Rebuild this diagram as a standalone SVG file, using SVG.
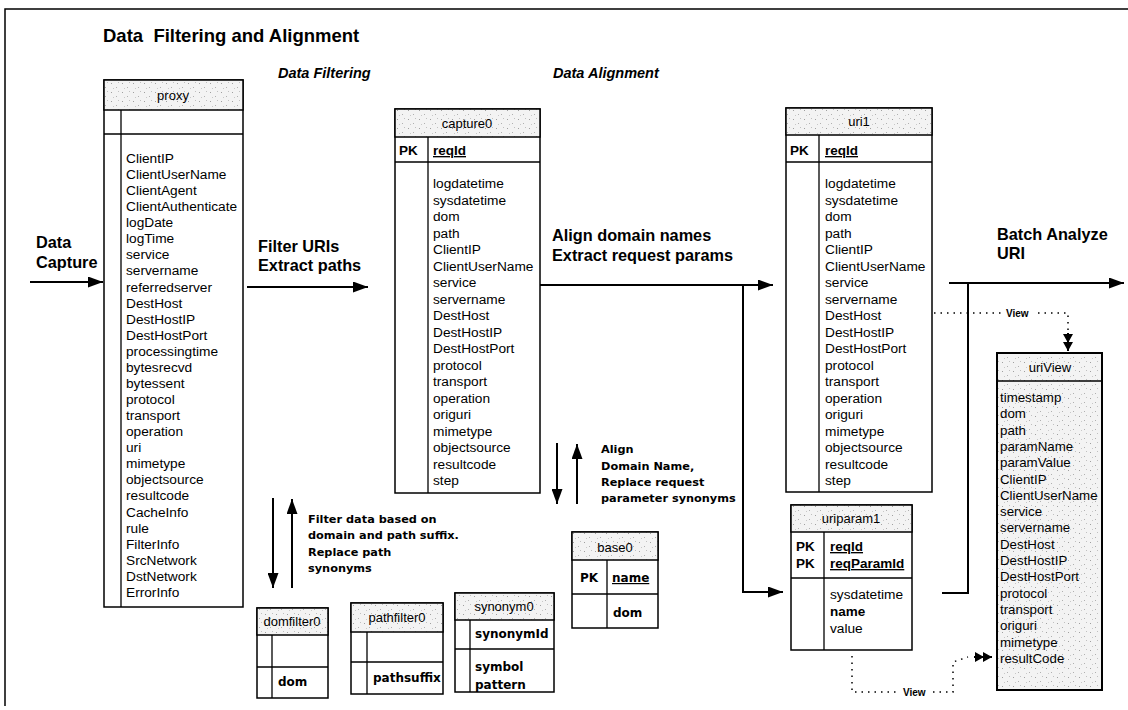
<svg xmlns="http://www.w3.org/2000/svg" width="1128" height="710" viewBox="0 0 1128 710">
  <defs>
    <pattern id="stip" width="11" height="9" patternUnits="userSpaceOnUse">
      <rect width="11" height="9" fill="#f3f3f3"/>
      <rect x="1" y="2" width="1" height="1" fill="#a0a0a0"/>
      <rect x="6" y="6" width="1" height="1" fill="#b0b0b0"/>
      <rect x="8" y="1" width="1" height="1" fill="#c0c0c0"/>
      <rect x="3" y="7" width="1" height="1" fill="#c8c8c8"/>
    </pattern>
    <marker id="arrow" markerUnits="userSpaceOnUse" markerWidth="15" markerHeight="11" refX="15" refY="5.5" orient="auto">
      <path d="M0,0 L15,5.5 L0,11 Z" fill="#000"/>
    </marker>
    <marker id="dbl" markerUnits="userSpaceOnUse" markerWidth="17" markerHeight="10" refX="17" refY="5" orient="auto">
      <path d="M0,0 L9,5 L0,10 Z M8,0 L17,5 L8,10 Z" fill="#000"/>
    </marker>
    <style>
      .frame { fill: none; stroke: #000; stroke-width: 1.5; }
      .box { fill: #fff; stroke: #000; stroke-width: 1.5; }
      .hdr { fill: url(#stip); stroke: #000; stroke-width: 1.5; }
      .rule { stroke: #000; stroke-width: 1.3; fill: none; }
      .flow { stroke: #000; stroke-width: 2; fill: none; }
      .dot { stroke: #000; stroke-width: 1.5; fill: none; stroke-dasharray: 1.5 5; }
      .title { font-family: "Liberation Sans", Arial, sans-serif; font-weight: bold; font-size: 18.5px; }
      .phase { font-family: "Liberation Sans", Arial, sans-serif; font-weight: bold; font-style: italic; font-size: 14.5px; }
      .step { font-family: "Liberation Sans", Arial, sans-serif; font-weight: bold; font-size: 16.3px; }
      .note { font-family: "DejaVu Sans", Verdana, sans-serif; font-weight: bold; font-size: 11.3px; }
      .fld { font-family: "Liberation Sans", Arial, sans-serif; font-size: 13.7px; }
      .vfld { font-family: "Liberation Sans", Arial, sans-serif; font-size: 13.3px; }
      .key { font-family: "Liberation Sans", Arial, sans-serif; font-size: 13.5px; font-weight: bold; }
      .bfld { font-family: "DejaVu Sans", Verdana, sans-serif; font-weight: bold; font-size: 12px; }
      .cap { font-family: "Liberation Sans", Arial, sans-serif; font-size: 13px; text-anchor: middle; }
      .view { font-family: "Liberation Sans", Arial, sans-serif; font-size: 10px; font-weight: bold; }
      .ul { text-decoration: underline; }
    </style>
  </defs>

  <rect width="1128" height="710" fill="#fff"/>
  <path class="frame" d="M5,706 L5,9 L1128,9"/>

  <!-- headings -->
  <text class="title" x="103" y="42" xml:space="preserve">Data  Filtering and Alignment</text>
  <text class="phase" x="278" y="78">Data Filtering</text>
  <text class="phase" x="553" y="78">Data Alignment</text>

  <!-- connectors -->
  <g id="connectors">
    <path class="flow" d="M30,282 L103,282" marker-end="url(#arrow)"/>
    <path class="flow" d="M247,287 L368,287" marker-end="url(#arrow)"/>
    <path class="flow" d="M537,285 L773,285" marker-end="url(#arrow)"/>
    <path class="flow" d="M743,285 L743,592 L783,592" marker-end="url(#arrow)"/>
    <path class="flow" d="M949,283 L1124,283" marker-end="url(#arrow)"/>
    <path class="flow" d="M942,593 L968,593 L968,283"/>
    <path class="flow" d="M273,498 L273,588" marker-end="url(#arrow)"/>
    <path class="flow" d="M292,588 L292,499" marker-end="url(#arrow)"/>
    <path class="flow" d="M557,443 L557,504" marker-end="url(#arrow)"/>
    <path class="flow" d="M577,504 L577,444" marker-end="url(#arrow)"/>
    <path class="dot" d="M934,313 L1068,313 L1068,334"/>
    <path class="flow" d="M1068,333 L1068,351" marker-end="url(#dbl)"/>
    <rect x="1004" y="305" width="30" height="14" fill="#fff"/>
    <text class="view" x="1006" y="317">View</text>
    <path class="dot" d="M852,656 L852,692 L953,692 L953,662 L968,657"/>
    <path class="flow" d="M974,657 L992,657" marker-end="url(#dbl)"/>
    <rect x="900" y="684" width="30" height="14" fill="#fff"/>
    <text class="view" x="903" y="696">View</text>
  </g>

  <!-- arrow labels -->
  <text class="step" x="36" y="248">Data</text>
  <text class="step" x="36" y="268">Capture</text>
  <text class="step" x="258" y="252">Filter URIs</text>
  <text class="step" x="258" y="271">Extract paths</text>
  <text class="step" x="552" y="241">Align domain names</text>
  <text class="step" x="552" y="261">Extract request params</text>
  <text class="step" x="997" y="240">Batch Analyze</text>
  <text class="step" x="997" y="259">URI</text>
  <text class="note" x="308" y="523">Filter data based on</text>
  <text class="note" x="308" y="539">domain and path suffix.</text>
  <text class="note" x="308" y="556">Replace path</text>
  <text class="note" x="308" y="572">synonyms</text>
  <text class="note" x="601" y="453">Align</text>
  <text class="note" x="601" y="470">Domain Name,</text>
  <text class="note" x="601" y="486">Replace request</text>
  <text class="note" x="601" y="502">parameter synonyms</text>

  <!-- proxy -->
  <g id="proxy">
    <rect class="box" x="104" y="80" width="139" height="527"/>
    <rect class="hdr" x="104" y="80" width="139" height="30"/>
    <text class="cap" x="173" y="100">proxy</text>
    <line class="rule" x1="104" y1="134" x2="243" y2="134" stroke-width="2"/>
    <line class="rule" x1="121" y1="110" x2="121" y2="607"/>
    <text class="fld" x="126" y="163">
      <tspan x="126">ClientIP</tspan><tspan x="126" dy="16.07">ClientUserName</tspan><tspan x="126" dy="16.07">ClientAgent</tspan><tspan x="126" dy="16.07">ClientAuthenticate</tspan><tspan x="126" dy="16.07">logDate</tspan><tspan x="126" dy="16.07">logTime</tspan><tspan x="126" dy="16.07">service</tspan><tspan x="126" dy="16.07">servername</tspan><tspan x="126" dy="16.07">referredserver</tspan><tspan x="126" dy="16.07">DestHost</tspan><tspan x="126" dy="16.07">DestHostIP</tspan><tspan x="126" dy="16.07">DestHostPort</tspan><tspan x="126" dy="16.07">processingtime</tspan><tspan x="126" dy="16.07">bytesrecvd</tspan><tspan x="126" dy="16.07">bytessent</tspan><tspan x="126" dy="16.07">protocol</tspan><tspan x="126" dy="16.07">transport</tspan><tspan x="126" dy="16.07">operation</tspan><tspan x="126" dy="16.07">uri</tspan><tspan x="126" dy="16.07">mimetype</tspan><tspan x="126" dy="16.07">objectsource</tspan><tspan x="126" dy="16.07">resultcode</tspan><tspan x="126" dy="16.07">CacheInfo</tspan><tspan x="126" dy="16.07">rule</tspan><tspan x="126" dy="16.07">FilterInfo</tspan><tspan x="126" dy="16.07">SrcNetwork</tspan><tspan x="126" dy="16.07">DstNetwork</tspan><tspan x="126" dy="16.07">ErrorInfo</tspan>
    </text>
  </g>

  <!-- capture0 -->
  <g id="capture0">
    <rect class="box" x="395" y="109" width="145" height="384"/>
    <rect class="hdr" x="395" y="109" width="145" height="28"/>
    <text class="cap" x="467" y="128">capture0</text>
    <line class="rule" x1="395" y1="162" x2="540" y2="162"/>
    <line class="rule" x1="428" y1="137" x2="428" y2="493"/>
    <text class="key" x="399" y="155">PK</text>
    <text class="key ul" x="433" y="155">reqId</text>
    <text class="fld" x="433" y="188">
      <tspan x="433">logdatetime</tspan><tspan x="433" dy="16.5">sysdatetime</tspan><tspan x="433" dy="16.5">dom</tspan><tspan x="433" dy="16.5">path</tspan><tspan x="433" dy="16.5">ClientIP</tspan><tspan x="433" dy="16.5">ClientUserName</tspan><tspan x="433" dy="16.5">service</tspan><tspan x="433" dy="16.5">servername</tspan><tspan x="433" dy="16.5">DestHost</tspan><tspan x="433" dy="16.5">DestHostIP</tspan><tspan x="433" dy="16.5">DestHostPort</tspan><tspan x="433" dy="16.5">protocol</tspan><tspan x="433" dy="16.5">transport</tspan><tspan x="433" dy="16.5">operation</tspan><tspan x="433" dy="16.5">origuri</tspan><tspan x="433" dy="16.5">mimetype</tspan><tspan x="433" dy="16.5">objectsource</tspan><tspan x="433" dy="16.5">resultcode</tspan><tspan x="433" dy="16.5">step</tspan>
    </text>
  </g>

  <!-- uri1 -->
  <g id="uri1">
    <rect class="box" x="786" y="108" width="146" height="384"/>
    <rect class="hdr" x="786" y="108" width="146" height="27"/>
    <text class="cap" x="859" y="126">uri1</text>
    <line class="rule" x1="786" y1="162" x2="932" y2="162"/>
    <line class="rule" x1="819" y1="135" x2="819" y2="492"/>
    <text class="key" x="790" y="155">PK</text>
    <text class="key ul" x="825" y="155">reqId</text>
    <text class="fld" x="825" y="188">
      <tspan x="825">logdatetime</tspan><tspan x="825" dy="16.5">sysdatetime</tspan><tspan x="825" dy="16.5">dom</tspan><tspan x="825" dy="16.5">path</tspan><tspan x="825" dy="16.5">ClientIP</tspan><tspan x="825" dy="16.5">ClientUserName</tspan><tspan x="825" dy="16.5">service</tspan><tspan x="825" dy="16.5">servername</tspan><tspan x="825" dy="16.5">DestHost</tspan><tspan x="825" dy="16.5">DestHostIP</tspan><tspan x="825" dy="16.5">DestHostPort</tspan><tspan x="825" dy="16.5">protocol</tspan><tspan x="825" dy="16.5">transport</tspan><tspan x="825" dy="16.5">operation</tspan><tspan x="825" dy="16.5">origuri</tspan><tspan x="825" dy="16.5">mimetype</tspan><tspan x="825" dy="16.5">objectsource</tspan><tspan x="825" dy="16.5">resultcode</tspan><tspan x="825" dy="16.5">step</tspan>
    </text>
  </g>

  <!-- uriparam1 -->
  <g id="uriparam1">
    <rect class="box" x="791" y="505" width="121" height="145"/>
    <rect class="hdr" x="791" y="505" width="121" height="27"/>
    <text class="cap" x="851" y="523">uriparam1</text>
    <line class="rule" x1="791" y1="578" x2="912" y2="578"/>
    <line class="rule" x1="824" y1="532" x2="824" y2="650"/>
    <text class="key" x="796" y="551">PK</text>
    <text class="key" x="796" y="568">PK</text>
    <text class="key ul" x="830" y="551">reqId</text>
    <text class="key ul" x="830" y="568">reqParamId</text>
    <text class="fld" x="830" y="599">sysdatetime</text>
    <text class="key" x="830" y="616">name</text>
    <text class="fld" x="830" y="633">value</text>
  </g>

  <!-- uriView -->
  <g id="uriView">
    <rect x="997" y="353" width="105" height="337" fill="url(#stip)" stroke="#000" stroke-width="2"/>
    <line class="rule" x1="997" y1="381" x2="1102" y2="381"/>
    <text class="cap" x="1050" y="372">uriView</text>
    <text class="vfld" x="1000" y="402">
      <tspan x="1000">timestamp</tspan><tspan x="1000" dy="16.3">dom</tspan><tspan x="1000" dy="16.3">path</tspan><tspan x="1000" dy="16.3">paramName</tspan><tspan x="1000" dy="16.3">paramValue</tspan><tspan x="1000" dy="16.3">ClientIP</tspan><tspan x="1000" dy="16.3">ClientUserName</tspan><tspan x="1000" dy="16.3">service</tspan><tspan x="1000" dy="16.3">servername</tspan><tspan x="1000" dy="16.3">DestHost</tspan><tspan x="1000" dy="16.3">DestHostIP</tspan><tspan x="1000" dy="16.3">DestHostPort</tspan><tspan x="1000" dy="16.3">protocol</tspan><tspan x="1000" dy="16.3">transport</tspan><tspan x="1000" dy="16.3">origuri</tspan><tspan x="1000" dy="16.3">mimetype</tspan><tspan x="1000" dy="16.3">resultCode</tspan>
    </text>
  </g>

  <!-- base0 -->
  <g id="base0">
    <rect class="box" x="572" y="532" width="86" height="96"/>
    <rect class="hdr" x="572" y="532" width="86" height="28"/>
    <text class="cap" x="615" y="552">base0</text>
    <line class="rule" x1="572" y1="594" x2="658" y2="594"/>
    <line class="rule" x1="607" y1="560" x2="607" y2="628"/>
    <text class="bfld" x="589" y="582" text-anchor="middle">PK</text>
    <text class="bfld ul" x="612" y="582">name</text>
    <text class="bfld" x="613" y="617">dom</text>
  </g>

  <!-- domfilter0 -->
  <g id="domfilter0">
    <rect class="box" x="257" y="608" width="71" height="90"/>
    <rect class="hdr" x="257" y="608" width="71" height="27"/>
    <text class="cap" x="292" y="626" font-size="12">domfilter0</text>
    <line class="rule" x1="257" y1="667" x2="328" y2="667"/>
    <line class="rule" x1="272" y1="635" x2="272" y2="698"/>
    <text class="bfld" x="278" y="686">dom</text>
  </g>

  <!-- pathfilter0 -->
  <g id="pathfilter0">
    <rect class="box" x="351" y="603" width="92" height="91"/>
    <rect class="hdr" x="351" y="603" width="92" height="29"/>
    <text class="cap" x="397" y="622" font-size="12">pathfilter0</text>
    <line class="rule" x1="351" y1="662" x2="443" y2="662"/>
    <line class="rule" x1="367" y1="632" x2="367" y2="694"/>
    <text class="bfld" x="373" y="682">pathsuffix</text>
  </g>

  <!-- synonym0 -->
  <g id="synonym0">
    <rect class="box" x="455" y="593" width="99" height="99"/>
    <rect class="hdr" x="455" y="593" width="99" height="27"/>
    <text class="cap" x="504" y="611" font-size="12">synonym0</text>
    <line class="rule" x1="455" y1="649" x2="554" y2="649"/>
    <line class="rule" x1="470" y1="620" x2="470" y2="692"/>
    <text class="bfld" x="475" y="638">synonymId</text>
    <text class="bfld" x="475" y="671">symbol</text>
    <text class="bfld" x="475" y="689">pattern</text>
  </g>
</svg>
